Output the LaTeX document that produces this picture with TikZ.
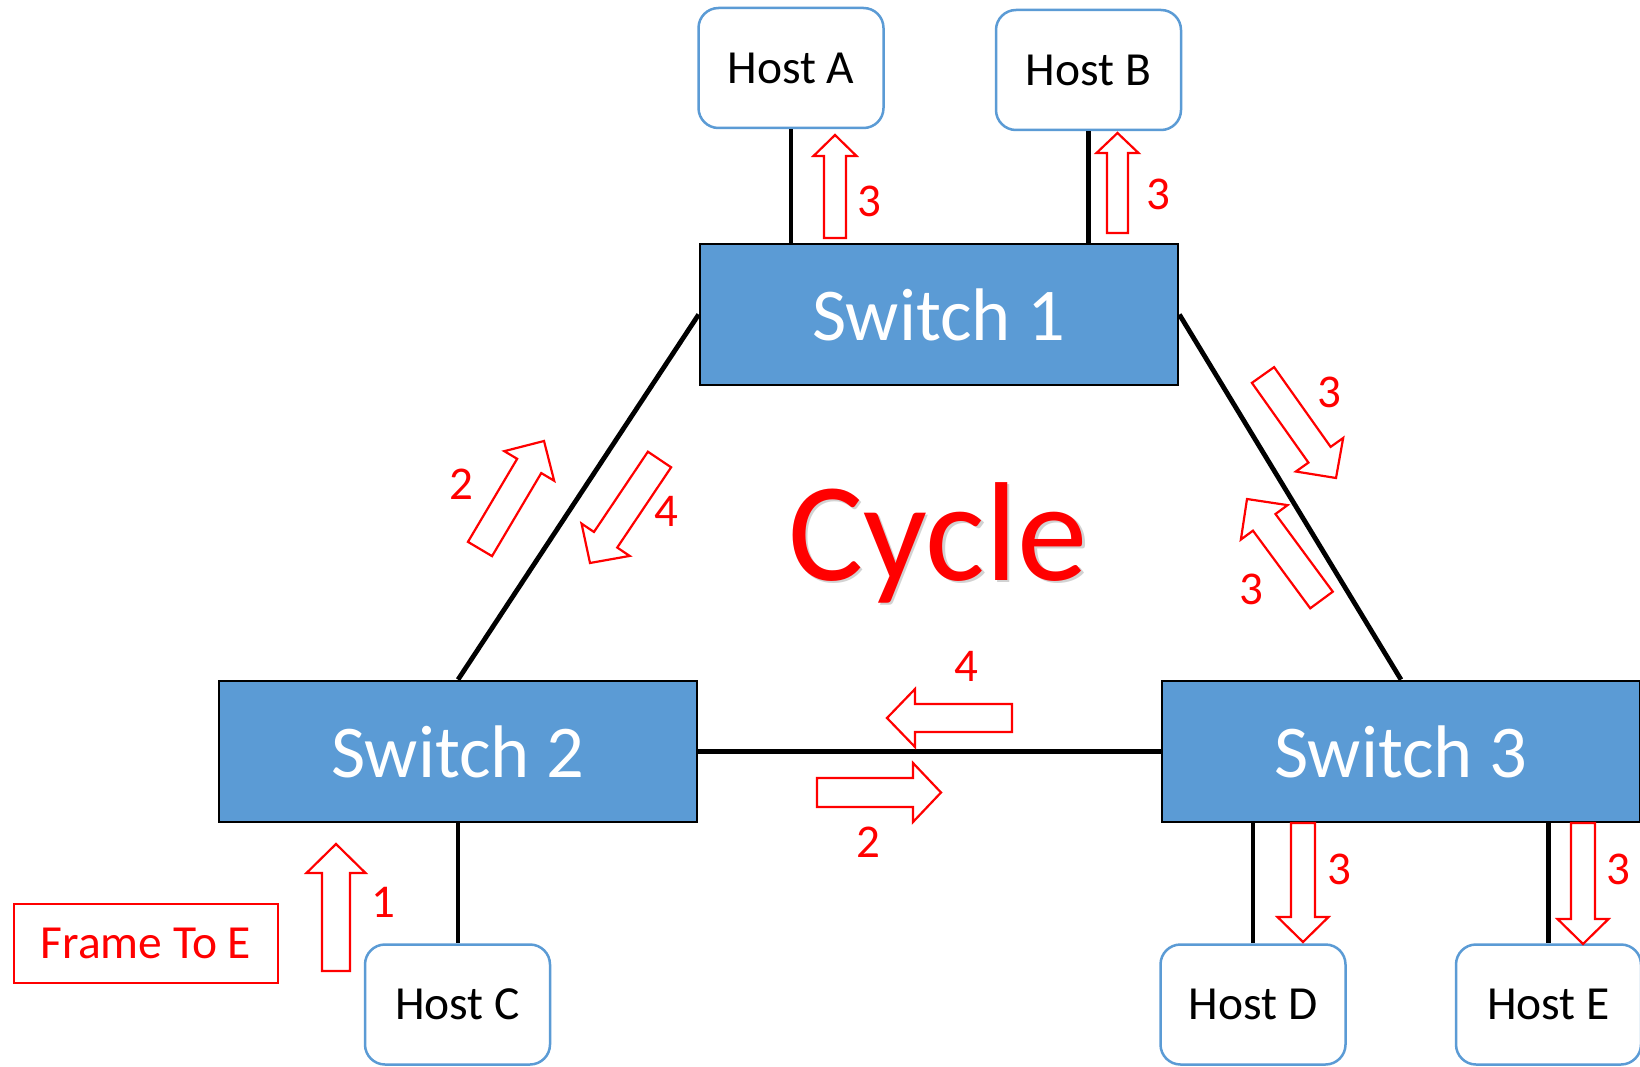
\documentclass[tikz,border=0pt]{standalone}
\usepackage{fontspec}
\setmainfont{Carlito}
\usetikzlibrary{calc}
\definecolor{sblue}{HTML}{5B9BD5}
\definecolor{fred}{HTML}{FF0000}
\newcommand\blockarr[5]{%
  \coordinate (bt) at (#1);
  \coordinate (bh) at (#2);
  \coordinate (bb) at ($(bh)!#5pt!(bt)$);
  \draw[redarr] ($(bt)!#3pt!90:(bh)$) -- ($(bb)!#3pt!90:(bh)$) -- ($(bb)!#4pt!90:(bh)$) -- (bh)
     -- ($(bb)!#4pt!-90:(bh)$) -- ($(bb)!#3pt!-90:(bh)$) -- ($(bt)!#3pt!-90:(bh)$) -- cycle;
}
\begin{document}
\begin{tikzpicture}[x=1pt,y=-1pt,
  host/.style={draw=sblue, line width=2.5pt, rounded corners=20pt, fill=white,
    minimum width=185pt, minimum height=120pt, inner sep=0pt,
    font=\fontsize{47.5}{52}\selectfont},
  switchbox/.style={draw=black, line width=2.7pt, fill=sblue, text=white,
    minimum width=478pt, minimum height=141pt, inner sep=0pt,
    font=\fontsize{74.5}{80}\selectfont},
  wire/.style={line width=4.8pt, black},
  redarr/.style={draw=fred, line width=2.2pt, fill=white, line join=miter},
  lbl/.style={text=fred, inner sep=0pt, font=\fontsize{47}{52}\selectfont},
  framebox/.style={draw=fred, line width=2.5pt, text=fred, minimum width=264pt,
    minimum height=79pt, inner sep=0pt, font=\fontsize{47.5}{52}\selectfont}
]
\clip (0,0) rectangle (1640,1067);
\fill[white] (0,0) rectangle (1640,1067);

% switches
\node[switchbox] (s1) at (939,314.5) {Switch 1};
\node[switchbox] (s2) at (458,751.5) {Switch 2};
\node[switchbox] (s3) at (1401,751.5) {Switch 3};

% hosts
\node[host] (hA) at (791,68) {Host A};
\node[host] (hB) at (1088.5,70) {Host B};
\node[host] (hC) at (457.5,1004.5) {Host C};
\node[host] (hD) at (1253,1004.5) {Host D};
\node[host] (hE) at (1548.5,1004.5) {Host E};

% wires
\draw[wire] (hA.south) -- (hA.south |- s1.north);
\draw[wire] (hB.south) -- (hB.south |- s1.north);
\draw[wire] (s2.south) -- (s2.south |- hC.north);
\draw[wire] (hD.north |- s3.south) -- (hD.north);
\draw[wire] (hE.north |- s3.south) -- (hE.north);
\draw[wire] (s1.west) -- (s2.north);
\draw[wire] (s1.east) -- (s3.north);
\draw[wire] (s2.east) -- (s3.west);

% Cycle
\node[text=gray!35, inner sep=0pt, anchor=base, font=\fontsize{141}{150}\selectfont] (cycsh) at (940.5,582.5) {Cycle};
\node[text=fred, inner sep=0pt, anchor=base, font=\fontsize{141}{150}\selectfont] (cyc) at (938,580) {Cycle};

% frame box
\node[framebox] (fr) at (146,943.5) {Frame To E};

% red block arrows
\blockarr{835,238}{835,135}{11}{21.5}{21}
\blockarr{1117.5,233}{1117.5,133}{10.5}{21}{20}
\blockarr{336,971}{336,844}{14}{29.5}{29}
\blockarr{817,792.5}{941,792.5}{14.5}{29.5}{28}
\blockarr{1012,718}{887,718}{14}{29}{28}
\blockarr{480,549}{544,441}{14}{29}{29}
\blockarr{659.5,459.5}{590,563}{14}{29}{28}
\blockarr{1263,375}{1336,478}{13.6}{29}{28.5}
\blockarr{1321.5,600}{1247,499}{14}{29}{29}
\blockarr{1303,823}{1303,942}{12}{25.5}{25}
\blockarr{1583,823}{1583,944}{12}{25.5}{25}

% labels
\node[lbl] (n1) at (869,201) {3};
\node[lbl] (n2) at (1158,194) {3};
\node[lbl] (n3) at (383,902) {1};
\node[lbl] (n4) at (461,484) {2};
\node[lbl] (n5) at (666,511) {4};
\node[lbl] (n6) at (1329,392) {3};
\node[lbl] (n7) at (1251,589) {3};
\node[lbl] (n8) at (966,666) {4};
\node[lbl] (n9) at (868,842) {2};
\node[lbl] (n10) at (1339,869) {3};
\node[lbl] (n11) at (1618,869) {3};
\end{tikzpicture}
\end{document}
